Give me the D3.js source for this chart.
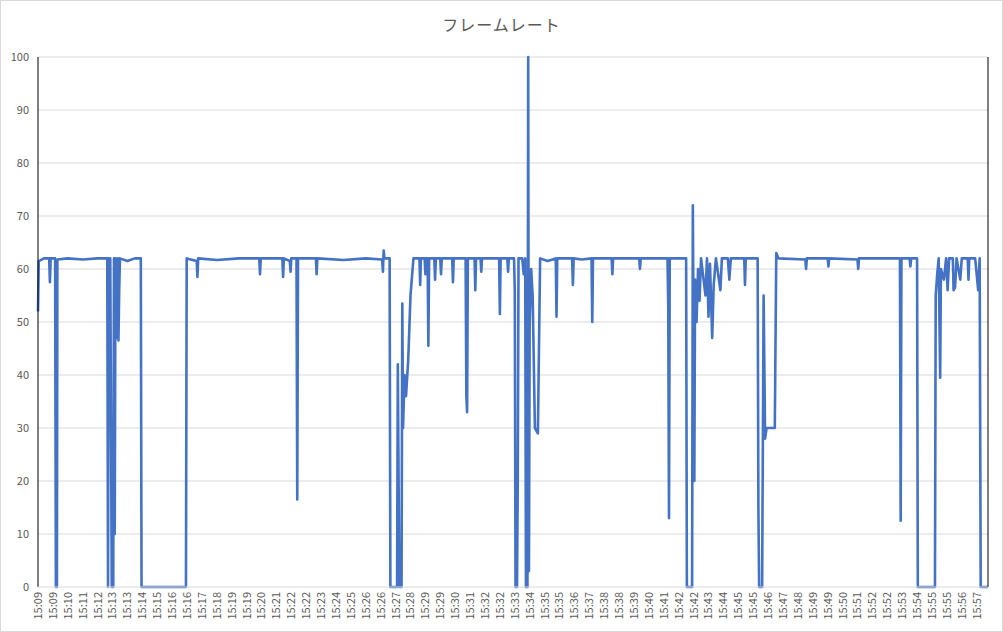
<!DOCTYPE html>
<html>
<head>
<meta charset="utf-8">
<script src="https://cdn.jsdelivr.net/npm/d3@7/dist/d3.min.js"></script>
<style>
  body { margin: 0; background: #fff; }
  svg { font-family: "Noto Sans CJK JP", "Liberation Sans", sans-serif; }
</style>
</head>
<body>
<svg id="chart" width="1003" height="632"></svg>
<script>
// x-axis category labels (one per tick)
const tickLabels = ["15:09","15:09","15:10","15:11","15:12","15:13","15:13","15:14","15:15","15:16","15:16","15:17","15:18","15:19","15:19","15:20","15:21","15:22","15:22","15:23","15:24","15:25","15:26","15:26","15:27","15:28","15:29","15:29","15:30","15:31","15:32","15:32","15:33","15:34","15:35","15:35","15:36","15:37","15:38","15:38","15:39","15:40","15:41","15:42","15:42","15:43","15:44","15:45","15:45","15:46","15:47","15:48","15:49","15:49","15:50","15:51","15:52","15:52","15:53","15:54","15:55","15:55","15:56","15:57"];

// [position in tick units, frame rate]
const samples = [
  [0,52],[0.05,61.5],[0.4,62],[0.75,62],[0.8,57.5],[0.85,62],[1.15,62],[1.2,0],[1.27,0],[1.3,61.8],
  [2.0,62],[3.0,61.8],[4.0,62],[4.65,62],[4.7,0],[4.75,62],[4.8,47],[4.85,62],[4.95,0],[5.05,0],[5.1,62],
  [5.15,10],[5.2,62],[5.3,47],[5.35,62],[5.4,46.5],[5.45,56],[5.5,62],[6.0,61.5],[6.5,62],[6.9,62],[6.95,0],
  [9.93,0],[9.98,62],[10.65,61.5],[10.7,58.5],[10.75,62],[12.0,61.7],[13.5,62],[14.85,62],[14.9,59],[14.95,62],
  [16.4,62],[16.45,58.5],[16.5,62],[16.9,61.5],[16.95,59.5],[17.0,62],[17.35,62],[17.4,16.5],[17.45,62],
  [18.65,62],[18.7,59],[18.75,62],[20.5,61.7],[22.0,62],[23.1,61.8],[23.15,59.5],[23.2,63.5],[23.25,62],
  [23.6,62],[23.65,0],[24.1,0],[24.15,42],[24.25,0],[24.4,0],[24.45,53.5],[24.5,30],[24.6,40],[24.7,36],
  [24.85,43],[25.0,55],[25.2,62],[25.6,62],[25.65,57],[25.7,62],[25.95,62],[26.0,59],[26.05,62],[26.15,62],
  [26.2,45.5],[26.25,62],[26.6,62],[26.65,58],[26.7,62],[27.0,62],[27.05,59],[27.1,62],[27.8,62],[27.85,57.5],
  [27.9,62],[28.7,62],[28.75,36],[28.8,33],[28.85,62],[29.3,62],[29.35,56],[29.4,62],[29.7,62],[29.75,59.5],
  [29.8,62],[30.95,62],[31.0,51.5],[31.05,62],[31.5,62],[31.55,59.5],[31.6,62],[31.95,62],[32.0,56],
  [32.05,0],[32.15,0],[32.2,20],[32.25,62],[32.5,62],[32.6,59],[32.7,62],[32.75,0],[32.85,0],[32.9,100],
  [32.95,3],[33.0,50],[33.1,60],[33.2,55],[33.35,30],[33.55,29],[33.7,62],[34.2,61.5],[34.75,62],[34.8,51],
  [34.85,62],[35.85,62],[35.9,57],[35.95,62],[36.5,61.8],[37.15,62],[37.2,50],[37.25,62],[38.5,62],
  [38.55,59],[38.6,62],[40.35,62],[40.4,60],[40.45,62],[41.5,62],[42.25,62],[42.3,53],[42.35,13],[42.4,62],
  [43.5,62],[43.55,0],[43.9,0],[43.95,72],[44.05,20],[44.1,58],[44.2,50],[44.3,60],[44.4,54],[44.5,62],
  [44.8,55],[44.9,62],[45.0,51],[45.1,61],[45.25,47],[45.35,57],[45.5,62],[45.8,56],[45.9,62],[46.3,62],
  [46.4,58],[46.5,62],[47.4,62],[47.45,57],[47.5,62],[48.3,62],[48.35,15],[48.4,0],[48.6,0],[48.7,55],
  [48.8,28],[48.9,30],[49.3,30],[49.45,30],[49.55,63],[49.7,62],[51.5,61.8],[51.55,60],[51.6,62],[53.0,62],
  [53.05,60.5],[53.1,62],[55.0,61.8],[55.05,60],[55.1,62],[57.85,62],[57.9,12.5],[57.95,62],[58.5,62],
  [58.55,60.5],[58.6,62],[59.0,62],[59.05,0],[60.2,0],[60.25,55],[60.35,59],[60.45,62],[60.55,39.5],
  [60.6,60],[60.8,58],[60.95,62],[61.05,56],[61.15,62],[61.4,62],[61.45,56],[61.55,56.5],[61.65,62],
  [61.9,58],[62.0,62],[62.4,62],[62.45,58],[62.5,62],[62.9,62],[63.1,56],[63.2,62],[63.27,0],[63.76,0]
];

const W = 1003, H = 632;
const margin = { left: 38, right: 15, top: 57, bottom: 45 };
const svg = d3.select("#chart");

svg.append("rect").attr("x", 0.5).attr("y", 0.5).attr("width", W - 1).attr("height", H - 1)
  .attr("fill", "#fff").attr("stroke", "#d9d9d9");

const x = d3.scaleLinear().domain([0, 63.76]).range([margin.left, W - margin.right]);
const y = d3.scaleLinear().domain([0, 100]).range([H - margin.bottom, margin.top]);

// gridlines
svg.append("g").selectAll("line").data(d3.range(10, 101, 10)).join("line")
  .attr("x1", x(0)).attr("x2", x(63.76))
  .attr("y1", d => y(d)).attr("y2", d => y(d))
  .attr("stroke", "#d9d9d9");

// y axis labels
svg.append("g").selectAll("text").data(d3.range(0, 101, 10)).join("text")
  .attr("x", 29).attr("y", d => y(d) + 4)
  .attr("text-anchor", "end").attr("font-size", 11).attr("fill", "#595959")
  .text(d => d);

// x axis labels
svg.append("g").selectAll("text").data(tickLabels).join("text")
  .attr("transform", (d, i) => `translate(${x(i) + 4},${H - margin.bottom + 5}) rotate(-90)`)
  .attr("text-anchor", "end").attr("font-size", 11).attr("fill", "#595959")
  .text(d => d);

// line
svg.append("path").datum(samples)
  .attr("fill", "none").attr("stroke", "#4472C4").attr("stroke-width", 2.6)
  .attr("stroke-linejoin", "round")
  .attr("d", d3.line().x(d => x(d[0])).y(d => y(d[1])));

// axis frame lines
svg.append("line").attr("x1", x(0)).attr("x2", x(0)).attr("y1", y(0)).attr("y2", y(100)).attr("stroke", "#000");
svg.append("line").attr("x1", x(63.76)).attr("x2", x(63.76)).attr("y1", y(0)).attr("y2", y(100)).attr("stroke", "#000");
svg.append("line").attr("x1", x(0)).attr("x2", x(63.76)).attr("y1", y(0)).attr("y2", y(0)).attr("stroke", "#d9d9d9");

// title
svg.append("text").attr("x", W / 2).attr("y", 31).attr("text-anchor", "middle")
  .attr("font-size", 16).attr("fill", "#595959").attr("letter-spacing", 1)
  .text("フレームレート");
</script>
</body>
</html>
